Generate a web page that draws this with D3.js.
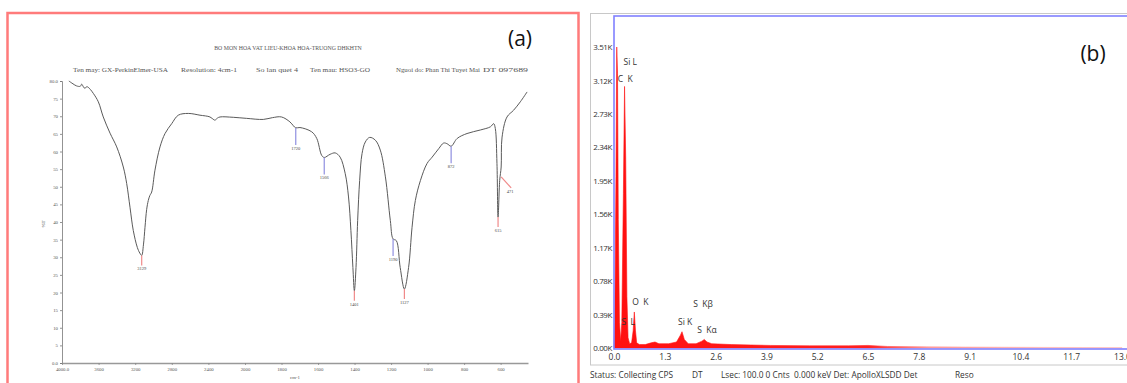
<!DOCTYPE html>
<html>
<head>
<meta charset="utf-8">
<script src="https://cdn.jsdelivr.net/npm/d3@7"></script>
<style>
html,body{margin:0;padding:0;background:#fff;}
svg{display:block;}
</style>
</head>
<body>
<svg id="chart" width="1127" height="383"></svg>
<script>
// ---------- DATA ----------
// (a) FTIR spectrum
const ftirWavenumber = [3925,3880,3840,3800,3785,3765,3749,3730,3713,3690,3658,3603,3549,3475,3402,3330,3293,3257,3221,3177,3150,3129,3110,3093,3075,3057,3040,3020,2984,2929,2874,2801,2729,2620,2492,2383,2340,2328,2300,2273,2128,1991,1900,1850,1800,1754,1735,1722,1699,1635,1607,1580,1566,1534,1506,1479,1451,1433,1420,1409,1401,1392,1383,1372,1359,1341,1317,1286,1259,1231,1204,1189,1171,1150,1127,1104,1085,1067,1039,1003,975,939,912,893,871,838,784,711,656,638,629,620,614,605,597,592,565,529,492,455];
const ftirTransmittance = [80.0,79.2,78.6,78.5,79.1,78.3,77.9,78.4,78.2,77.6,76.5,74.1,69.8,65.2,61.3,55.6,50.9,44.2,37.6,32.8,31.2,30.5,33.5,38.5,43.5,46.1,47.5,48.5,54.7,61.3,65.1,67.9,70.3,70.8,70.3,69.8,69.0,68.9,69.5,69.8,69.7,69.4,69.1,69.6,69.8,68.4,67.3,66.7,66.8,65.6,63.7,58.9,58.3,59.2,59.6,58.4,53.7,47.1,37.6,27.1,20.5,27.1,40.4,51.8,59.4,62.7,64.0,63.2,60.4,52.8,40.4,35.2,34.7,27.1,21.0,27.1,38.5,46.1,51.8,56.6,58.4,60.8,62.4,62.2,61.5,63.7,65.1,66.1,67.0,67.9,66.5,56.6,41.4,51.8,55.6,64.1,69.8,71.7,74.1,76.9];
const peakLabels = ["3129","1720","1566","1401","1190","1127","872","615","471"];
const peakWavenumbers = [3129,1722,1566,1401,1189,1127,871,614,597];
const peakTransmittance = [30.5,66.7,58.3,20.5,35.2,21.0,61.5,41.4,52.8];
const peakKinds = ["red","blue","blue","red","blue","red","blue","red","redDiag"];
const ftirXTicks = [4000,3600,3200,2800,2400,2000,1800,1600,1400,1200,1000,800,600];
const ftirYTicks = [0,5,10,15,20,25,30,35,40,45,50,55,60,65,70,75,80];
const ftirTitle = "BO MON HOA VAT LIEU-KHOA HOA-TRUONG DHKHTN";
const ftirInfo = ["Ten may: GX-PerkinElmer-USA","Resolution: 4cm-1","So lan quet 4","Ten mau: HSO3-GO","Nguoi do: Phan Thi Tuyet Mai","DT 097689"];

// (b) EDS spectrum
const edsEnergy = [0.00,0.02,0.05,0.07,0.09,0.11,0.14,0.17,0.20,0.24,0.27,0.30,0.33,0.36,0.40,0.45,0.49,0.52,0.55,0.58,0.65,0.80,0.95,1.05,1.15,1.40,1.60,1.70,1.74,1.80,1.90,2.10,2.25,2.31,2.38,2.50,3.00,3.50,4.00,5.00,6.00,6.50,7.00,8.00,9.00,10.0,11.0,12.0,13.0];
const edsCounts = [0,0.30,2.00,3.51,3.20,1.50,0.30,0.08,0.30,1.80,3.05,2.20,0.60,0.12,0.05,0.06,0.20,0.42,0.20,0.06,0.04,0.04,0.06,0.07,0.05,0.05,0.07,0.15,0.19,0.10,0.05,0.05,0.08,0.10,0.07,0.05,0.04,0.035,0.03,0.025,0.025,0.03,0.018,0.014,0.011,0.009,0.007,0.006,0.005];
const edsYTicks = [0,0.39,0.78,1.17,1.56,1.95,2.34,2.73,3.12,3.51];
const edsXTicks = [0,1.3,2.6,3.9,5.2,6.5,7.8,9.1,10.4,11.7,13.0];
const edsPeakNames = ["Si L","C  K","O  K","S  L","Si K","S  Kα","S  Kβ"];
const edsPeakEnergy = [0.09,0.07,0.52,0.24,1.74,2.31,2.31];
const edsStatus = ["Status: Collecting CPS","DT","Lsec: 100.0 0 Cnts  0.000 keV Det: ApolloXLSDD Det","Reso"];

// ---------- DRAW ----------
const svg = d3.select("#chart");

// ===== Panel (a) =====
const gA = svg.append("g");
gA.append("rect").attr("x",7.5).attr("y",13).attr("width",571).attr("height",380)
  .attr("fill","#fff").attr("stroke","#ff7b7b").attr("stroke-width",2.5);

const xL = d3.scaleLinear().domain([4000,2000,450]).range([62,245,528]);
const yL = d3.scaleLinear().domain([0,80]).range([363,81]);
const serif = "'Liberation Serif','DejaVu Serif',serif";

gA.append("text").attr("x",288).attr("y",50).attr("text-anchor","middle")
  .attr("font-family",serif).attr("font-size",5.8).attr("fill","#555").text(ftirTitle);
const infoX = [73,181,256,310,396,483];
const infoW = [95,56,42,60,84,45];
gA.selectAll("text.info").data(ftirInfo).join("text").attr("class","info")
  .attr("x",(d,i)=>infoX[i]).attr("y",72)
  .attr("textLength",(d,i)=>infoW[i]).attr("lengthAdjust","spacingAndGlyphs")
  .attr("font-family",serif).attr("font-size",6).attr("fill","#555").text(d=>d);

const axY = gA.append("g").attr("transform","translate(62,0)")
  .call(d3.axisLeft(yL).tickValues(ftirYTicks).tickSize(2).tickPadding(2)
    .tickFormat(d=> d===0?"0.0":(d===80?"80.0":String(d))));
axY.selectAll("text").attr("font-family",serif).attr("font-size",4.8).attr("fill","#555");
axY.selectAll("line,path").attr("stroke","#777").attr("stroke-width",0.8);

const axX = gA.append("g").attr("transform","translate(0,363)")
  .call(d3.axisBottom(xL).tickValues(ftirXTicks).tickSize(2).tickSizeOuter(0).tickPadding(3)
    .tickFormat(d=> d===4000?"4000.0":String(d)));
axX.selectAll("text").attr("font-family",serif).attr("font-size",4.8).attr("fill","#555");
axX.selectAll("line").attr("stroke","#888").attr("stroke-width",0.8);
axX.select("path").attr("stroke","#999").attr("stroke-width",1.6);

gA.append("text").attr("x",295).attr("y",379).attr("text-anchor","middle")
  .attr("font-family",serif).attr("font-size",4.8).attr("fill","#555").text("cm-1");
gA.append("text").attr("transform","translate(45,224) rotate(-90)").attr("text-anchor","middle")
  .attr("font-family",serif).attr("font-size",5).attr("fill","#555").text("%T");

const line = d3.line().x((d,i)=>xL(ftirWavenumber[i])).y(d=>yL(d)).curve(d3.curveCatmullRom.alpha(0.5));
gA.append("path").datum(ftirTransmittance).attr("d",line)
  .attr("fill","none").attr("stroke","#5a5a5a").attr("stroke-width",1);

// peak markers
peakLabels.forEach((lab,i)=>{
  const px = xL(peakWavenumbers[i]), py = yL(peakTransmittance[i]);
  const k = peakKinds[i];
  const col = k==="blue" ? "#8f8fe0" : "#f08a8a";
  let x2 = px, y2, lx = px, ly;
  if(k==="blue"){ y2 = py+17; ly = py+22; }
  else if(k==="red"){ y2 = py+10; ly = py+15; }
  else { x2 = px+10; y2 = py+11; lx = px+9; ly = py+16; }
  gA.append("line").attr("x1",px).attr("y1",py).attr("x2",x2).attr("y2",y2)
    .attr("stroke",col).attr("stroke-width",1.2);
  gA.append("text").attr("x",lx).attr("y",ly).attr("text-anchor","middle")
    .attr("font-family",serif).attr("font-size",4.5).attr("fill","#444").text(lab);
});

gA.append("text").attr("x",520).attr("y",46).attr("text-anchor","middle")
  .attr("font-family","'Open Sans','Noto Sans',sans-serif").attr("font-size",21).attr("fill","#111").text("(a)");

// ===== Panel (b) =====
const gB = svg.append("g");
gB.append("rect").attr("x",590.5).attr("y",13.5).attr("width",560).attr("height",351.5)
  .attr("fill","#fff").attr("stroke","#c8c8c8").attr("stroke-width",1);

const xR = d3.scaleLinear().domain([0,13]).range([614,1122]);
const yR = d3.scaleLinear().domain([0,3.51]).range([348,47]);
const sans = "'Open Sans','Noto Sans',sans-serif";

const defs = svg.append("defs");
const grad = defs.append("linearGradient").attr("id","edsGrad")
  .attr("gradientUnits","userSpaceOnUse").attr("x1",xR(0)).attr("x2",xR(13)).attr("y1",0).attr("y2",0);
grad.append("stop").attr("offset","0%").attr("stop-color","#ff1010");
grad.append("stop").attr("offset","50%").attr("stop-color","#ff2020");
grad.append("stop").attr("offset","62%").attr("stop-color","#ff9a9a");
grad.append("stop").attr("offset","100%").attr("stop-color","#ffc0c0");

const area = d3.area().x((d,i)=>xR(edsEnergy[i])).y0(yR(0)).y1(d=>yR(d));
gB.append("path").datum(edsCounts).attr("d",area).attr("fill","url(#edsGrad)").attr("stroke","url(#edsGrad)").attr("stroke-width",0.6);

gB.append("rect").attr("x",614).attr("y",16).attr("width",530).attr("height",333)
  .attr("fill","none").attr("stroke","#8080ff").attr("stroke-width",1.6);

const axYR = gB.append("g").attr("transform","translate(613,0)")
  .call(d3.axisLeft(yR).tickValues(edsYTicks).tickSize(0).tickPadding(1).tickFormat(d=>d.toFixed(2)+"K"));
axYR.select("path").remove();
axYR.selectAll("text").attr("font-family",sans).attr("font-size",8).attr("fill","#333").attr("letter-spacing",-0.4);

const axXR = gB.append("g").attr("transform","translate(0,350)")
  .call(d3.axisBottom(xR).tickValues(edsXTicks).tickSize(0).tickPadding(4).tickFormat(d=>d.toFixed(1)));
axXR.select("path").remove();
axXR.selectAll("text").attr("font-family",sans).attr("font-size",8.5).attr("fill","#333");

// element labels
const lblDX = [6,1,-2,-2,-4,-7,-11];
const lblY = [62,79,302,322,322,330,304];
gB.selectAll("text.el").data(edsPeakNames).join("text").attr("class","el")
  .attr("x",(d,i)=>xR(edsPeakEnergy[i])+lblDX[i]).attr("y",(d,i)=>lblY[i]+3)
  .attr("font-family",sans).attr("font-size",8.5).attr("fill","#333")
  .style("white-space","pre").text(d=>d);

gB.append("text").attr("x",1093).attr("y",61).attr("text-anchor","middle")
  .attr("font-family",sans).attr("font-size",21).attr("fill","#111").text("(b)");

const stX = [590,692,721,955];
gB.selectAll("text.st").data(edsStatus).join("text").attr("class","st")
  .attr("x",(d,i)=>stX[i]).attr("y",378)
  .attr("font-family",sans).attr("font-size",8.3).attr("fill","#333")
  .style("white-space","pre").text(d=>d);
</script>
</body>
</html>
